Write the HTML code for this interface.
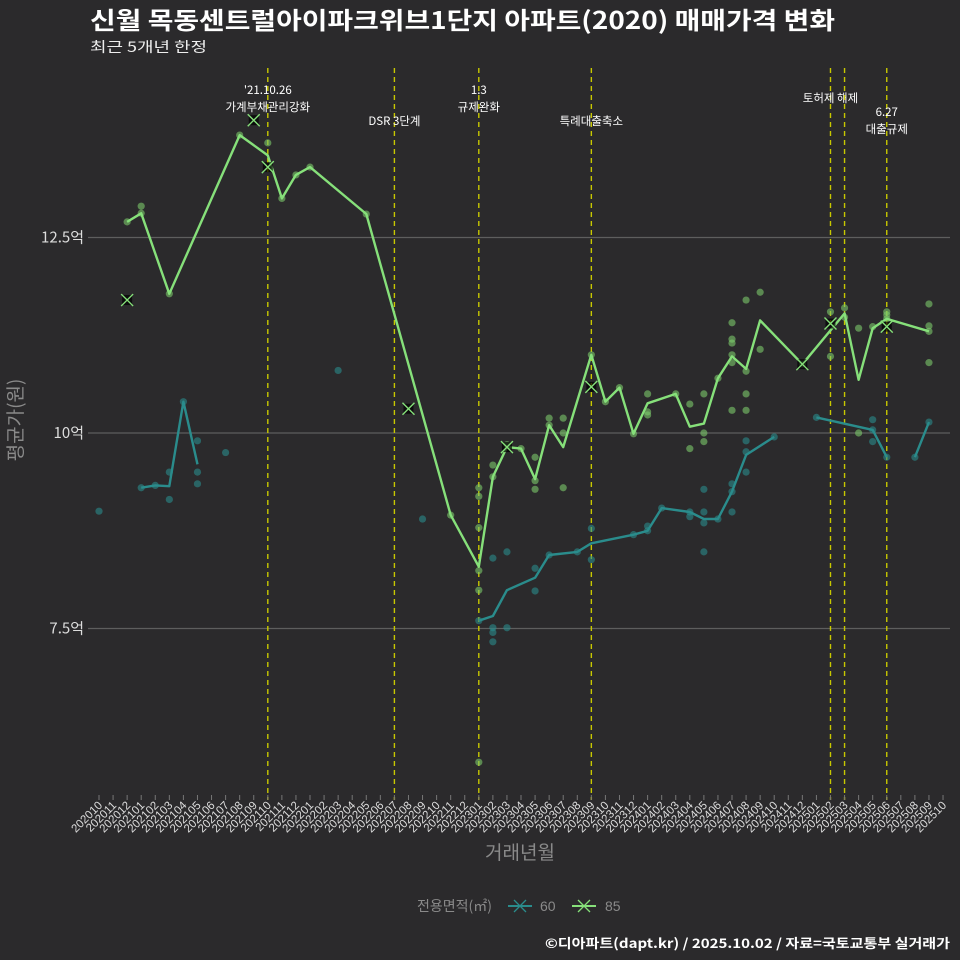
<!DOCTYPE html>
<html><head><meta charset="utf-8">
<style>
body{margin:0;background:#2b2a2c;}
svg{display:block;font-family:"Liberation Sans","Noto Sans CJK KR",sans-serif;}
.n{font-family:"Noto Sans CJK KR","Liberation Sans",sans-serif;}
</style></head>
<body>
<svg id="chart" width="960" height="960" viewBox="0 0 960 960" xmlns="http://www.w3.org/2000/svg">
<rect width="960" height="960" fill="#2b2a2c"/>
<text class="n" x="90" y="29" fill="#fff" font-size="24" font-weight="bold" textLength="745" lengthAdjust="spacingAndGlyphs">신월 목동센트럴아이파크위브1단지 아파트(2020) 매매가격 변화</text>
<text class="n" x="90" y="52" fill="#eee" font-size="14" textLength="117" lengthAdjust="spacingAndGlyphs">최근 5개년 한정</text>
<g id="grid"></g><g id="vlines"></g><g id="marks"></g><g id="axes"></g>
<text class="n" transform="translate(22,420) rotate(-90)" text-anchor="middle" fill="#8a8a8a" font-size="19">평균가(원)</text>
<text class="n" x="520" y="859" text-anchor="middle" fill="#8a8a8a" font-size="19">거래년월</text>
<g>
<text class="n" x="417" y="911" fill="#8a8a8a" font-size="14">전용면적(㎡)</text>
<g><line x1="508" y1="906" x2="532" y2="906" stroke="#2a8c8c" stroke-width="2"/><path d="M514 900L526 912M526 900L514 912" stroke="#2a8c8c" stroke-width="1.3"/><text x="540" y="911" fill="#8a8a8a" font-size="14">60</text></g>
<g><line x1="572" y1="906" x2="596" y2="906" stroke="#86e07a" stroke-width="2"/><path d="M578 900L590 912M590 900L578 912" stroke="#86e07a" stroke-width="1.3"/><text x="605" y="911" fill="#8a8a8a" font-size="14">85</text></g>
</g>
<text class="n" x="950" y="948" text-anchor="end" fill="#fff" font-size="13" font-weight="bold" textLength="405" lengthAdjust="spacingAndGlyphs">©디아파트(dapt.kr) / 2025.10.02 / 자료=국토교통부 실거래가</text>
</svg>
<script>
const months=[];for(let y=2020,m=10;!(y===2025&&m>10);){months.push(y+'/'+(m<10?'0'+m:m));m++;if(m>12){m=1;y++;}}
const monthLabels=months.map(s=>s.replace('/',''));
const yTicks=[7.5,10,12.5];
const yTickLabels=['7.5억','10억','12.5억'];
const line60=[[3,9.30],[4,9.33],[5,9.32],[6,10.40],[7,9.60],null,[27,7.60],[28,7.66],[29,7.99],[31,8.15],[32,8.44],[34,8.48],[35,8.59],[38,8.70],[39,8.75],[40,9.04],[42,8.99],[43,8.90],[44,8.90],[45,9.25],[46,9.72],[48,9.95],null,[51,10.20],[55,10.04],[56,9.69],null,[58,9.69],[59,10.14]];
const line85=[[2,12.70],[3,12.81],[5,11.78],[10,13.81],[12,13.55],[13,13.00],[14,13.30],[15,13.40],[19,12.80],[25,8.95],[27,8.29],[28,9.44],[29,9.82],[30,9.80],[31,9.41],[32,10.10],[33,9.82],[35,11.00],[36,10.40],[37,10.58],[38,9.99],[39,10.38],[41,10.50],[42,10.08],[43,10.12],[44,10.70],[45,10.98],[46,10.82],[47,11.44],[50,10.88],[53,11.53],[54,10.68],[55,11.34],[56,11.46],[59,11.30]];
const pts60=[[0,9.0],[3,9.30],[4,9.33],[5,9.50],[5,9.15],[6,10.40],[7,9.90],[7,9.50],[7,9.35],[9,9.75],[17,10.80],[23,8.90],[27,7.60],[28,8.40],[28,7.51],[28,7.45],[28,7.33],[29,8.48],[29,7.51],[31,8.27],[31,7.98],[32,8.44],[34,8.48],[35,8.78],[35,8.38],[38,8.70],[39,8.81],[39,8.75],[40,9.04],[42,8.99],[42,8.93],[43,9.28],[43,8.99],[43,8.85],[43,8.48],[44,8.90],[45,9.35],[45,9.25],[45,8.99],[46,9.90],[46,9.76],[46,9.50],[48,9.95],[51,10.20],[55,10.17],[55,10.04],[55,9.89],[56,9.69],[58,9.69],[59,10.14]];
const pts85=[[2,12.70],[3,12.90],[3,12.81],[5,11.78],[10,13.81],[12,13.71],[13,13.00],[14,13.30],[15,13.40],[19,12.80],[25,8.95],[27,9.30],[27,9.19],[27,8.79],[27,8.24],[27,7.99],[27,5.79],[28,9.59],[28,9.44],[29,9.85],[30,9.80],[31,9.69],[31,9.39],[31,9.28],[32,10.19],[32,10.10],[33,10.19],[33,10.00],[33,9.30],[35,11.00],[36,10.40],[37,10.58],[38,9.99],[39,10.50],[39,10.27],[39,10.23],[41,10.50],[42,10.37],[42,9.80],[43,10.50],[43,10.00],[43,9.89],[44,10.70],[45,11.41],[45,11.20],[45,11.15],[45,11.00],[45,10.90],[45,10.29],[46,11.70],[46,10.79],[46,10.50],[46,10.29],[47,11.80],[47,11.07],[50,10.88],[52,11.55],[52,10.98],[53,11.60],[53,11.48],[54,11.34],[54,10.00],[55,11.36],[56,11.55],[56,11.51],[56,11.46],[59,11.65],[59,11.37],[59,11.30],[59,10.90]];
const xMarks85=[[2,11.70],[11,14.00],[12,13.40],[22,10.31],[29,9.82],[35,10.59],[50,10.88],[52,11.40],[56,11.36]];
const events=[[12,["'21.10.26","가계부채관리강화"],94],[21,["DSR 3단계"],125],[27,["1.3","규제완화"],94],[35,["특례대출축소"],125],[52,["토허제 해제"],102],[53,[],0],[56,["6.27","대출규제"],116]];

const X=i=>99+i*14.067, Y=v=>433-(v-10)*78.2;
const NS='http://www.w3.org/2000/svg';
function mk(tag,attrs,parent,txt){const e=document.createElementNS(NS,tag);for(const k in attrs)e.setAttribute(k,attrs[k]);if(txt!==undefined)e.textContent=txt;document.getElementById(parent).appendChild(e);return e;}
yTicks.forEach((v,k)=>{
 const l=mk('line',{x1:88,x2:950,y1:Y(v),y2:Y(v),stroke:'#5e5e5e','stroke-width':1.2},'grid');
 
 
 const t=mk('text',{x:84,y:Y(v)+5,'text-anchor':'end',fill:'#ddd','font-size':15,class:'n'},'axes',yTickLabels[k]);
 
 
});
monthLabels.forEach((s,i)=>{
 const tk=mk('line',{x1:X(i),x2:X(i),y1:795,y2:800,stroke:'#777'},'axes');
 
 
 const t=mk('text',{transform:`translate(${X(i)+4},806) rotate(-45)`,'text-anchor':'end',fill:'#ddd','font-size':11.5},'axes',s);
 
 
});
events.forEach(ev=>{
 const l=mk('line',{x1:X(ev[0]),x2:X(ev[0]),y1:68,y2:800,stroke:'#c8c800','stroke-width':1.4,'stroke-dasharray':'5,4'},'vlines');
 
 
 ev[1].forEach((s,k)=>{
  const t=mk('text',{x:X(ev[0]),y:ev[2]+k*17,'text-anchor':'middle',fill:'#fff','font-size':11.5,class:'n'},'vlines',s);
  
  
 });
});
function drawPts(arr,col,name){arr.forEach(p=>{const c=mk('circle',{cx:X(p[0]),cy:Y(p[1]),r:3.6,fill:col,'fill-opacity':0.6},'marks');
 
 });}
function drawLine(arr,col,name){let d='',start=true;arr.forEach(p=>{if(!p){start=true;return;}d+=(start?'M':'L')+X(p[0]).toFixed(1)+' '+Y(p[1]).toFixed(1);start=false;});
 const e=mk('path',{d:d,fill:'none',stroke:col,'stroke-width':2.4,'stroke-linejoin':'round'},'marks');
 
 }
drawPts(pts60,'#2a8c8c','point-60');
drawPts(pts85,'#7cc96a','point-85');
drawLine(line60,'#2a8c8c','line-60');
drawLine(line85,'#86e07a','line-85');
xMarks85.forEach(p=>{const x=X(p[0]),y=Y(p[1]);
 mk('rect',{x:x-5,y:y-5,width:10,height:10,fill:'#000','fill-opacity':0.7},'marks');
 const g=mk('path',{d:`M${x-6} ${y-6}L${x+6} ${y+6}M${x+6} ${y-6}L${x-6} ${y+6}`,stroke:'#86e07a','stroke-width':1.4,fill:'none'},'marks');
 
 
});
</script>
</body></html>
